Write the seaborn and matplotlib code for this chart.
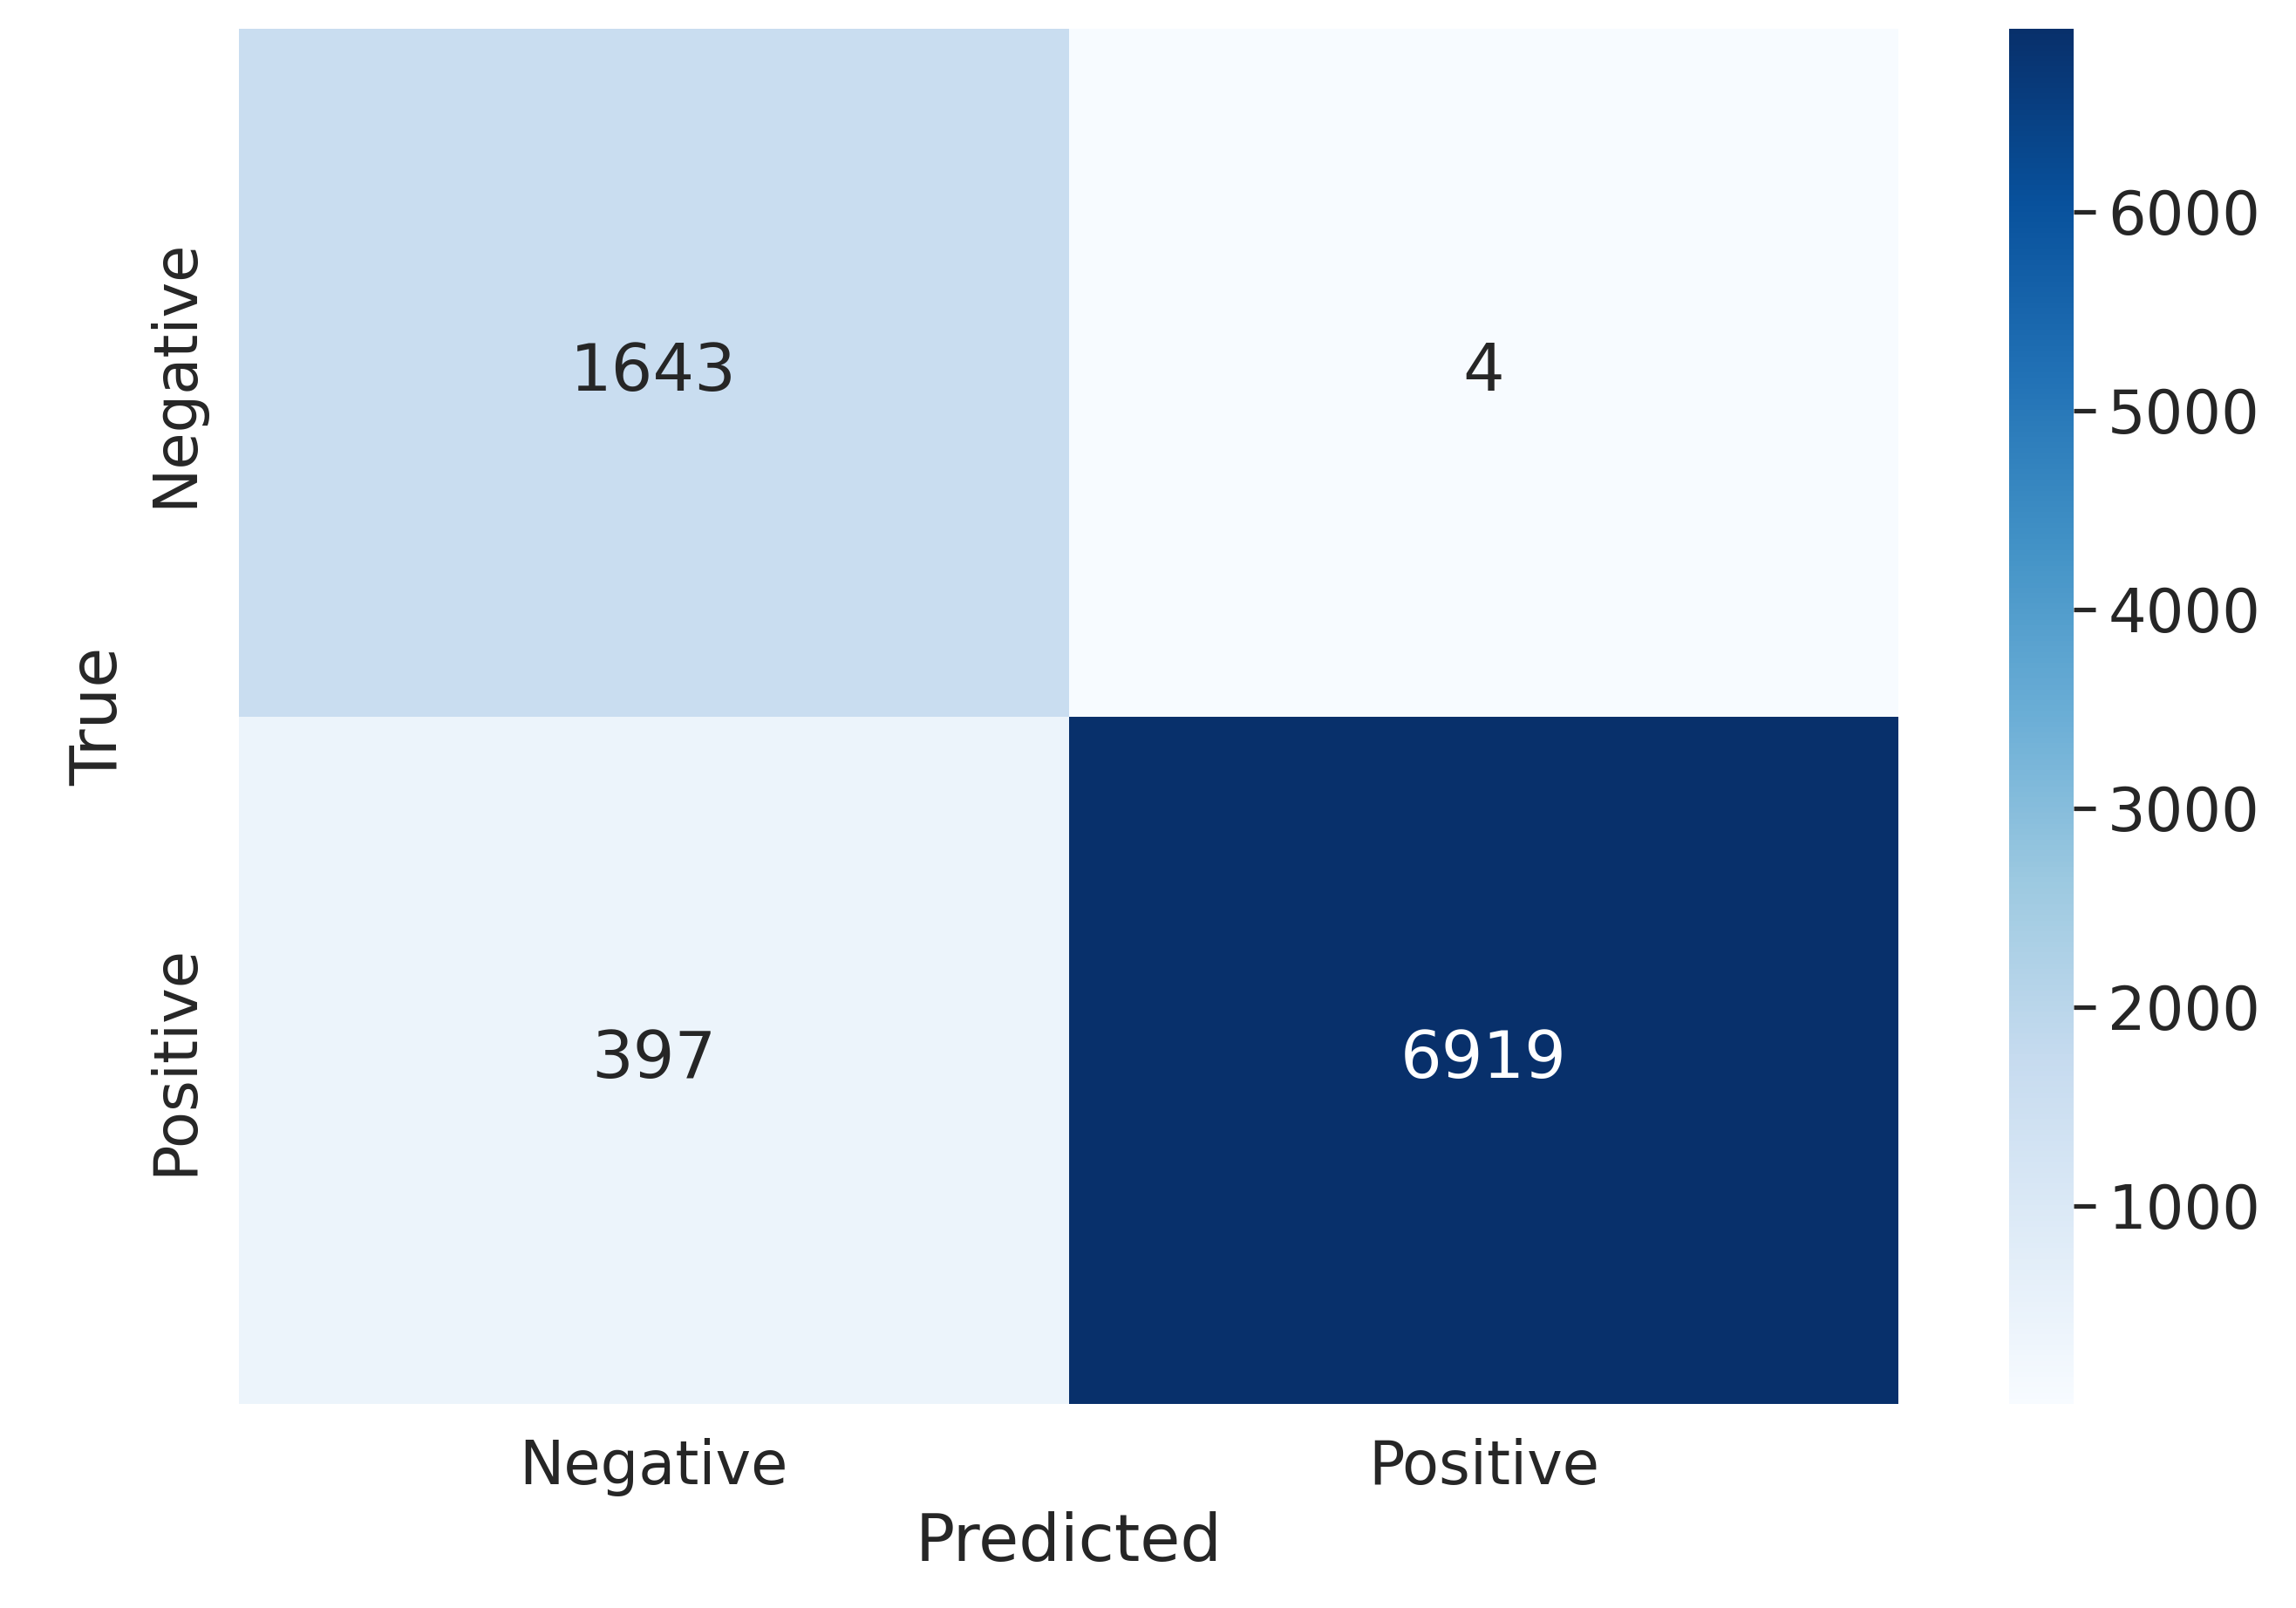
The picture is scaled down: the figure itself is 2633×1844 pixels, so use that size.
import matplotlib
matplotlib.use("Agg")
import matplotlib.pyplot as plt
import seaborn as sns
import numpy as np

labels = ["Negative", "Positive"]
row_neg = [1643, 4]
row_pos = [397, 6919]

sns.set_theme(style="darkgrid", font_scale=1.5)
cm = np.array([row_neg, row_pos])

fig = plt.figure(figsize=(2633/300, 1844/300), dpi=300)
ax = fig.add_axes([0.104, 0.127, 0.723, 0.855])
cax = fig.add_axes([0.875, 0.127, 0.028, 0.855])
sns.heatmap(cm, annot=True, fmt="d", cmap="Blues", xticklabels=labels,
            yticklabels=labels, ax=ax, cbar_ax=cax)
ax.set_xlabel("Predicted")
ax.set_ylabel("True")
fig.savefig("out.png", dpi=300)
